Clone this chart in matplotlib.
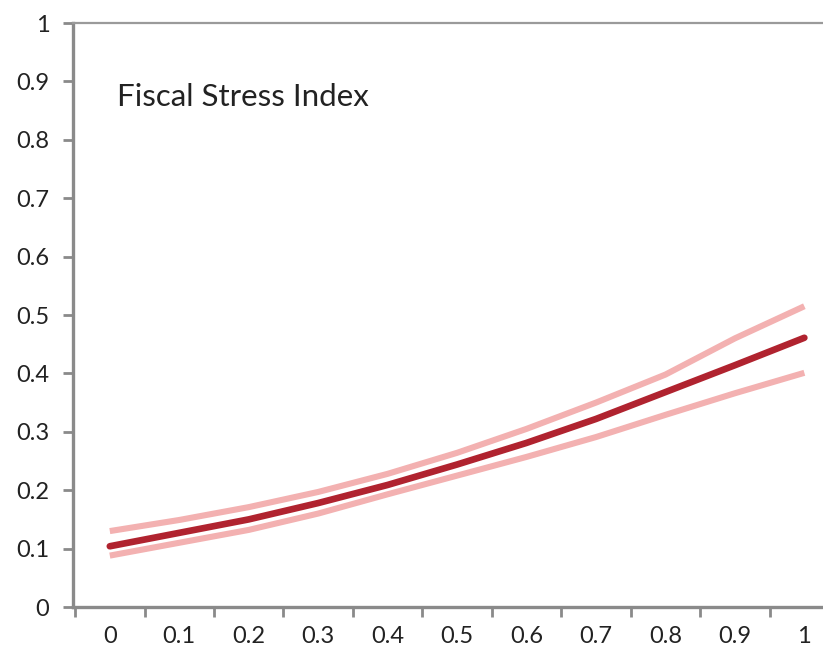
import numpy as np
import matplotlib.pyplot as plt
from matplotlib.ticker import FixedLocator

# -----------------------------
# Data
# -----------------------------
categories = ['0', '0.1', '0.2', '0.3', '0.4', '0.5', '0.6', '0.7', '0.8', '0.9', '1']
estimate = [0.104, 0.127, 0.150, 0.178, 0.209, 0.244, 0.281, 0.322, 0.368, 0.414, 0.461]
upper = [0.130, 0.149, 0.171, 0.197, 0.228, 0.264, 0.305, 0.350, 0.398, 0.460, 0.515]
lower = [0.088, 0.110, 0.132, 0.160, 0.193, 0.225, 0.257, 0.291, 0.329, 0.366, 0.401]

dark_red = '#B0232F'
pink = '#F3B1B1'
axis_grey = '#8A8A8A'

plt.rcParams['font.family'] = ['Lato', 'DejaVu Sans']

# -----------------------------
# Figure
# -----------------------------
fig = plt.figure(figsize=(8.23, 6.56), dpi=100)
ax = fig.add_axes([73 / 823, 49 / 656, 764 / 823, 584 / 656])

x = np.arange(len(categories))
ax.plot(x, upper, color=pink, linewidth=4.4, solid_capstyle='butt')
ax.plot(x, lower, color=pink, linewidth=4.4, solid_capstyle='butt')
ax.plot(x, estimate, color=dark_red, linewidth=4.8, solid_capstyle='round')

ax.set_xlim(-0.53, 10.47)
ax.set_ylim(0, 1)

# y axis
ax.set_yticks(np.round(np.arange(0, 1.01, 0.1), 1))
ax.set_yticklabels(['0', '0.1', '0.2', '0.3', '0.4', '0.5', '0.6', '0.7', '0.8', '0.9', '1'])

# x axis: labels at category centres, tick marks between categories
ax.set_xticks(x)
ax.set_xticklabels(categories)
ax.xaxis.set_minor_locator(FixedLocator(np.arange(-0.5, 10.6, 1.0)))
ax.tick_params(axis='x', which='major', length=0, pad=14, labelsize=17, colors='#222222')
ax.tick_params(axis='x', which='minor', length=7, width=2, color=axis_grey, direction='out')
ax.tick_params(axis='y', which='major', length=7, width=2, color=axis_grey,
               labelsize=17, labelcolor='#222222', pad=10)

for side in ['left', 'bottom']:
    ax.spines[side].set_color(axis_grey)
    ax.spines[side].set_linewidth(2.4)
ax.spines['top'].set_color('#9A9A9A')
ax.spines['top'].set_linewidth(1.6)
ax.spines['right'].set_visible(False)

ax.text(0.058, 0.873, 'Fiscal Stress Index', transform=ax.transAxes,
        fontsize=22.5, color='#222222', ha='left', va='center')

fig.savefig('out.png', dpi=100)
